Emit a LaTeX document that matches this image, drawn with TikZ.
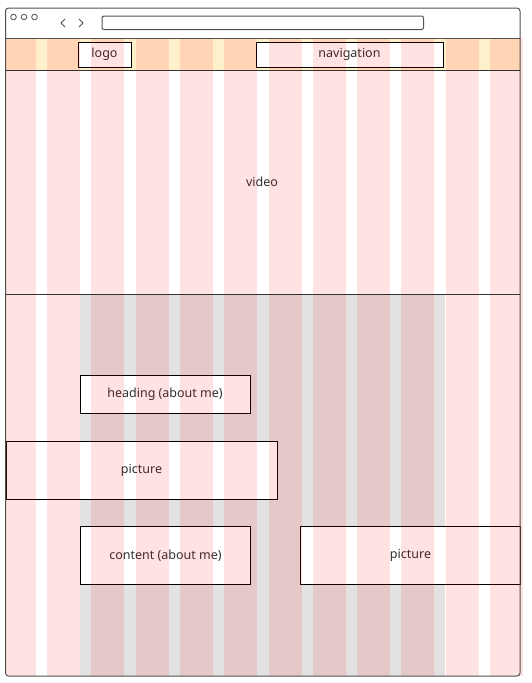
\documentclass[tikz,border=0pt]{standalone}
\usepackage{fontspec}
\setmainfont{Noto Sans}
\usepackage{tikz}
\usetikzlibrary{shapes.geometric, arrows}
\definecolor{headerbg}{HTML}{FFF0CC}
\definecolor{bandgray}{HTML}{E2E2E2}
\definecolor{framegray}{HTML}{505050}
\definecolor{labelgray}{HTML}{303030}
\tikzstyle{wirebox} = [rectangle, draw=black, fill=white, text centered, text=labelgray, inner sep=0pt, font=\fontsize{12.5}{14}\selectfont]
\tikzstyle{label} = [text=labelgray, font=\fontsize{12.5}{14}\selectfont]
\tikzstyle{gridcol} = [fill=red, fill opacity=0.11]
\tikzstyle{chrome} = [draw=framegray, line width=1pt]

\begin{document}
\begin{tikzpicture}[x=1pt, y=-1pt]
                \useasboundingbox (0,0) rectangle (531,683);
                % header and grey content band
                \fill[headerbg] (5,38) rectangle (521,70);
                \fill[bandgray] (80,294) rectangle (445,676);
                % page blocks
                \node (logo) [wirebox, minimum width=53, minimum height=25] at (104.5,54.5) {logo};
                \node (nav) [wirebox, minimum width=187, minimum height=25] at (349.5,54.5) {navigation};
                \node (video) [label] at (262,182) {video};
                \node (heading) [wirebox, minimum width=170, minimum height=38] at (165,394) {heading (about me)};
                \node (picleft) [wirebox, minimum width=271, minimum height=58] at (141.5,470.5) {picture};
                \node (content) [wirebox, minimum width=170, minimum height=58] at (165.5,555.5) {content (about me)};
                \node (picright) [wirebox, minimum width=220, minimum height=58] at (410.5,555.5) {picture};
                % 12 column grid overlay
                \foreach \i in {0,...,11}
                    \fill[gridcol] ({max(6,2.7+44.3*\i)},38) rectangle ({2.7+44.3*\i+33},676);
                % browser window
                \draw[chrome, rounded corners=3pt] (5.5,8) rectangle (520,676);
                \draw[chrome] (5.5,38) -- (520,38);
                \draw[black!80, line width=0.8pt] (5.5,70) -- (520,70);
                \draw[black!80, line width=0.8pt] (5.5,294) -- (520,294);
                \foreach \x in {13.5,24,34.5}
                    \draw[framegray, line width=0.8pt] (\x,17) circle (2.8);
                \draw[framegray, line width=1pt] (65,19) -- (61,23) -- (65,27);
                \draw[framegray, line width=1pt] (79,19) -- (83,23) -- (79,27);
                \draw[chrome, rounded corners=2pt] (102,16) rectangle (423.5,29.5);
            \end{tikzpicture}
\end{document}
